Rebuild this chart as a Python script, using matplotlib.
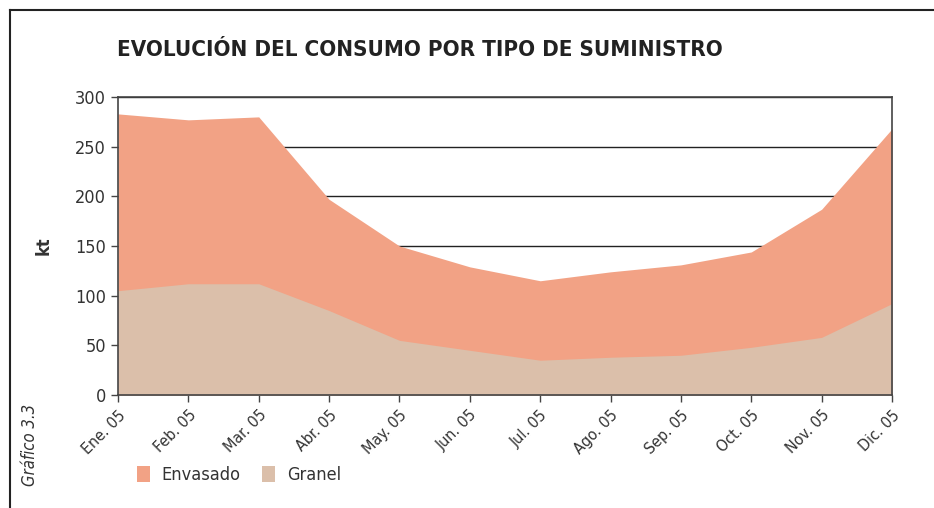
import matplotlib
matplotlib.use("Agg")
import matplotlib.pyplot as plt
from matplotlib.patches import Patch
from matplotlib.lines import Line2D

months = ["Ene. 05", "Feb. 05", "Mar. 05", "Abr. 05", "May. 05", "Jun. 05",
          "Jul. 05", "Ago. 05", "Sep. 05", "Oct. 05", "Nov. 05", "Dic. 05"]
granel = [105, 112, 112, 85, 55, 45, 35, 38, 40, 48, 58, 92]
envasado = [178, 165, 168, 112, 95, 84, 80, 86, 91, 96, 129, 176]
yticks = [0, 50, 100, 150, 200, 250, 300]

c_env = "#F2A285"
c_gra = "#DBBFAA"
txt = "#333333"
plt.rcParams["font.family"] = ["DejaVu Sans"]
plt.rcParams["font.stretch"] = "condensed"

fig = plt.figure(figsize=(9.34, 5.08), dpi=100)
ax = fig.add_axes([118/934, (508-395)/508, (892-118)/934, (395-97)/508])

x = list(range(len(months)))
total = [g + e for g, e in zip(granel, envasado)]
ax.fill_between(x, 0, total, color=c_env, linewidth=0, zorder=2)
ax.fill_between(x, 0, granel, color=c_gra, linewidth=0, zorder=2.1)
ax.set_xlim(0, len(months) - 1)
ax.set_ylim(0, 300)
ax.set_yticks(yticks)
ax.set_yticklabels([str(v) for v in yticks], fontsize=13, color=txt)
ax.set_xticks(x)
ax.set_xticklabels(months, rotation=45, ha="right", va="top", fontsize=11.5,
                   color=txt, rotation_mode="anchor")
ax.tick_params(axis="both", direction="out", length=5, width=1, color="#444444")
ax.tick_params(axis="x", pad=4)
ax.yaxis.grid(True, color="#222222", linewidth=1, zorder=1)
ax.set_axisbelow(True)
for s in ax.spines.values():
    s.set_color("#444444")
    s.set_linewidth(1.2)
    s.set_zorder(3)

ax.set_ylabel("kt", fontsize=13, fontweight="bold", color=txt, labelpad=16)

fig.text(117/934, 1 - 50/508, "EVOLUCIÓN DEL CONSUMO POR TIPO DE SUMINISTRO",
         fontsize=16, fontweight="bold", color="#222222", va="center", ha="left")

fig.text(30/934, 1 - 445/508, "Gráfico 3.3", rotation=90, fontstyle="italic",
         fontsize=12, color=txt, ha="center", va="center")

handles = [Patch(facecolor=c_env, edgecolor="none", label="Envasado"),
           Patch(facecolor=c_gra, edgecolor="none", label="Granel")]
fig.legend(handles=handles, loc="center left", bbox_to_anchor=(137/934, 1 - 475/508),
           ncol=2, frameon=False, fontsize=13, handlelength=0.72, handleheight=1.05,
           handletextpad=0.65, columnspacing=1.2, labelcolor=txt,
           borderpad=0, borderaxespad=0)

fig.add_artist(Line2D([10/934, 1], [1 - 10/508, 1 - 10/508], transform=fig.transFigure,
                      color="#222222", linewidth=1.5))
fig.add_artist(Line2D([10/934, 10/934], [0, 1 - 10/508], transform=fig.transFigure,
                      color="#222222", linewidth=1.5))

fig.savefig("out.png", dpi=100)
